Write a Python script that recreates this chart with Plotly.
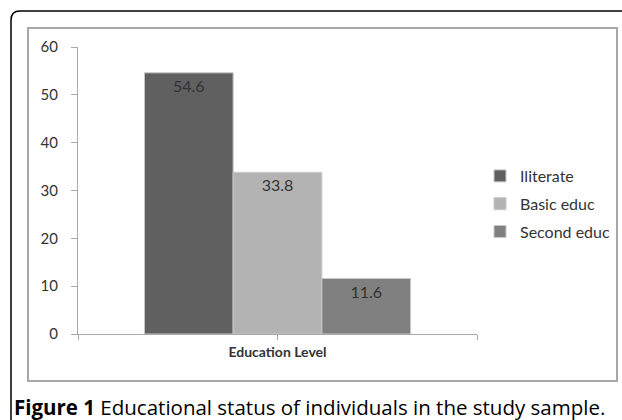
import plotly.graph_objects as go

# ---- data ----
categories = ["Iliterate", "Basic educ", "Second educ"]
values = [54.6, 33.8, 11.6]
colors = ["#606060", "#b3b3b3", "#808080"]
x_label = "Education Level"
y_ticks = [0, 10, 20, 30, 40, 50, 60]
caption_bold = "Figure 1"
caption_text = "Educational status of individuals in the study sample."

W, H = 622, 420
L, R, T, B = 78, 477, 47, 334  # plot area in px


def px(x):
    return (x - L) / (R - L)


def py(y):
    return (B - y) / (B - T)


fig = go.Figure()
for name, v, c in zip(categories, values, colors):
    fig.add_trace(go.Bar(
        x=[0], y=[v], name=name, legendgroup=name,
        marker=dict(color=c, line=dict(color="#c8c8c8", width=1)),
        text=[f"{v:.1f}"], textposition="inside", insidetextanchor="end",
        textfont=dict(family="Lato, Open Sans, sans-serif", size=16, color="#333333"),
        cliponaxis=False,
    ))

shapes = []
# outer black frame with rounded top-left corner
r = 9
x0, y0 = 11, 11
shapes.append(dict(
    type="path", xref="paper", yref="paper",
    path=(f"M {px(x0)},{py(H + 5)} L {px(x0)},{py(y0 + r)} "
          f"Q {px(x0)},{py(y0)} {px(x0 + r)},{py(y0)} L {px(W + 5)},{py(y0)}"),
    line=dict(color="#000000", width=1.5),
))
# inner gray frame
shapes.append(dict(
    type="rect", xref="paper", yref="paper",
    x0=px(28), y0=py(381), x1=px(617), y1=py(28),
    line=dict(color="#a8a8a8", width=2),
))

fig.update_layout(
    width=W, height=H,
    margin=dict(l=L, r=W - R, t=T, b=H - B, pad=0, autoexpand=False),
    paper_bgcolor="white", plot_bgcolor="white",
    barmode="group", bargap=0.333, bargroupgap=0,
    showlegend=True,
    legend=dict(
        xref="container", yref="container",
        x=480 / W, y=1 - 159 / H, xanchor="left", yanchor="top",
        font=dict(family="Lato, Open Sans, sans-serif", size=16, color="#333333"),
        tracegroupgap=4, traceorder="grouped",
        bgcolor="rgba(0,0,0,0)", itemwidth=30,
    ),
    xaxis=dict(
        range=[-0.5, 0.5], tickvals=[-0.5, 0, 0.5],
        ticktext=["", "<b>" + x_label + "</b>", ""],
        ticks="outside", ticklen=5, tickcolor="#a8a8a8",
        showline=True, linecolor="#a8a8a8", linewidth=1,
        showgrid=False, zeroline=False, fixedrange=True,
        tickfont=dict(family="Lato, Open Sans, sans-serif", size=14, color="#333333"),
    ),
    yaxis=dict(
        range=[0, 60], tickvals=y_ticks,
        ticks="outside", ticklen=6, tickcolor="#a8a8a8",
        showline=True, linecolor="#a8a8a8", linewidth=1,
        showgrid=False, zeroline=False, ticklabelstandoff=10,
        tickfont=dict(family="Lato, Open Sans, sans-serif", size=15, color="#333333"),
    ),
    shapes=shapes,
    annotations=[dict(
        xref="paper", yref="paper", x=px(12), y=py(407),
        xanchor="left", yanchor="middle", showarrow=False,
        text=f"<b>{caption_bold}</b> {caption_text}",
        font=dict(family="Open Sans, sans-serif", size=20.5, color="#000000"),
    )],
)

fig.write_html("out.html")
